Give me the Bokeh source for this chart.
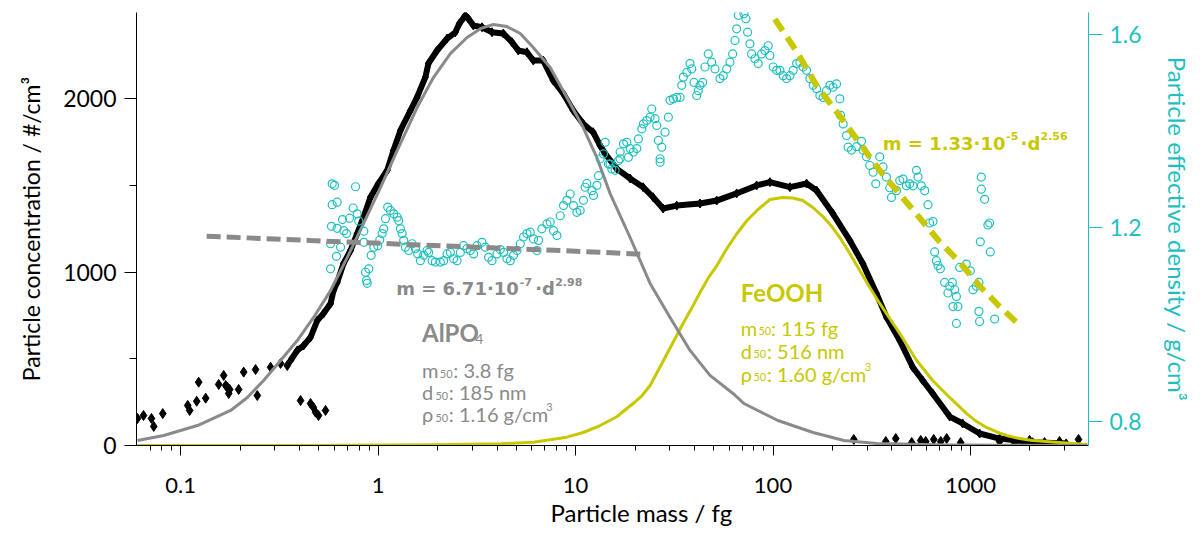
from bokeh.plotting import figure
from bokeh.models import Range1d, LinearAxis, FixedTicker, PrintfTickFormatter, Label, Title
from bokeh.embed import file_html
from bokeh.resources import INLINE

FONT = "Lato"
FORMULA_FONT = "DejaVu Sans"
GRAY = "#8a8a8a"
YEL = "#c8c800"
CYAN = "#1fbfbf"

# ---------------- data (mass in fg) ----------------
black_mass = [0.3601, 0.3893, 0.4190, 0.4545, 0.4914, 0.5288, 0.5737, 0.5941, 0.6204, 0.6677,
              0.7244, 0.7831, 0.8425, 0.9142, 1.003, 1.110, 1.195, 1.297, 1.457, 1.575,
              1.735, 1.797, 1.988, 2.234, 2.460, 2.578, 2.764, 2.863, 3.034, 3.358,
              3.774, 4.302, 4.762, 5.125, 5.671, 6.105, 6.858, 7.703, 8.658, 9.725,
              10.93, 12.27, 13.32, 14.11, 16.18, 18.89, 21.98, 24.70, 27.74, 32.54,
              42.67, 51.85, 65.44, 82.61, 96.45, 121.8, 147.9, 166.2, 200.9, 244.9,
              284.9, 334.2, 375.4, 438.5, 510.2, 573.1, 643.9, 784.8, 912.8, 1113,
              1405, 2064, 3056]
black_conc = [490, 548, 576, 624, 720, 761, 818, 893, 941, 1049,
              1124, 1222, 1316, 1431, 1510, 1585, 1700, 1816, 1931, 2008,
              2123, 2202, 2277, 2346, 2382, 2432, 2479, 2461, 2421, 2411,
              2382, 2375, 2325, 2277, 2267, 2219, 2219, 2104, 2029, 1931,
              1854, 1806, 1729, 1683, 1595, 1539, 1489, 1431, 1366, 1383,
              1395, 1412, 1453, 1499, 1518, 1489, 1510, 1470, 1337, 1182,
              1049, 876, 740, 605, 451, 375, 300, 167, 127, 69,
              40, 19, 12]

black_scatter_mass = [0.0604, 0.0648, 0.0711, 0.0730, 0.0811, 0.1085, 0.1110, 0.1205, 0.1233, 0.1338,
                      0.1557, 0.1650, 0.1689, 0.1723, 0.1750, 0.1770, 0.1965, 0.2084, 0.2394, 0.2443,
                      0.2852, 0.3204, 0.3465, 0.4046, 0.4545, 0.4692, 0.4819, 0.4989, 0.5413,
                      256.6, 372.5, 418.5, 504.2, 560.0, 593.5, 651.6, 707.1, 758.1, 892.1,
                      1405, 1673, 1993, 2373, 2827, 3527]
black_scatter_conc = [156, 173, 156, 110, 184, 231, 202, 255, 365, 273,
                      352, 404, 346, 336, 300, 323, 323, 423, 438, 288,
                      451, 473, 461, 259, 242, 221, 192, 173, 202,
                      35, 23, 40, 17, 29, 23, 35, 23, 40, 17,
                      23, 17, 29, 17, 23, 35]

alpo_fit_mass = [0.0604, 0.0820, 0.1215, 0.1790, 0.2175, 0.2629, 0.3204, 0.3893, 0.4708, 0.5737,
                 0.6967, 0.8425, 1.027, 1.248, 1.575, 1.905, 2.321, 2.819, 3.293, 3.831,
                 4.493, 5.246, 6.105, 7.439, 9.036, 10.93, 12.82, 14.96, 18.89, 23.85,
                 30.10, 38.00, 47.96, 62.70, 71.24, 105.9, 159.7, 228.4, 335.4, 784.8, 3916]
alpo_fit_conc = [28.8, 57.6, 115, 202, 277, 375, 490, 605, 738, 893,
                 1083, 1279, 1487, 1700, 1948, 2121, 2259, 2352, 2403, 2427,
                 2415, 2375, 2294, 2179, 2006, 1833, 1660, 1452, 1199, 934,
                 738, 548, 404, 300, 242, 144, 75, 29, 11.5, 2.9, 0]

feooh_fit_mass = [0.0604, 0.4046, 1.905, 4.156, 6.105, 9.036, 10.93, 13.32, 16.23, 19.56,
                  21.73, 23.85, 25.87, 28.39, 31.53, 35.02, 38.89, 42.67, 46.85, 52.02,
                  58.45, 65.68, 73.79, 82.91, 96.45, 112.2, 126.1, 141.6, 159.2, 178.8,
                  198.6, 218.0, 244.9, 275.2, 309.1, 347.3, 390.3, 438.5, 534.5, 643.9,
                  784.8, 956.8, 1075, 1207, 1357, 1525, 1774, 2064, 2827, 3916]
feooh_fit_conc = [0, 0, 4, 9.8, 19, 48, 75, 115, 167, 242,
                  288, 346, 421, 507, 605, 703, 795, 882, 963, 1038,
                  1136, 1222, 1297, 1355, 1418, 1430, 1427, 1412, 1372, 1320,
                  1262, 1199, 1107, 1009, 911, 819, 732, 646, 490, 375,
                  277, 184, 138, 104, 78, 58, 40, 29, 17, 6]

dens_mass = [0.585, 0.601, 0.768, 0.585, 0.620, 0.747, 0.783, 0.660, 0.716, 0.580,
             0.620, 0.670, 0.691, 0.798, 0.846, 0.574, 0.645, 0.615, 0.574, 0.846,
             0.863, 0.897, 0.873, 0.880, 0.922, 0.950, 0.995, 1.019, 1.048, 1.067,
             1.089, 1.118, 1.154, 1.199, 1.248, 1.271, 1.296, 1.323, 1.348, 1.375,
             1.428, 1.486, 1.544, 1.587, 1.637, 1.701, 1.770, 1.803, 1.876, 1.949,
             2.066, 2.147, 2.234, 2.321, 2.412, 2.509, 2.608, 2.710, 2.819, 2.930,
             3.045, 3.168, 3.358, 3.489, 3.626, 3.773, 3.999, 4.156, 4.318, 4.493,
             4.669, 4.852, 5.048, 5.246, 5.452, 5.672, 5.893, 6.124, 6.372, 6.492,
             6.754, 7.159, 7.439, 7.731, 8.044, 8.359, 8.687, 9.036, 9.391, 9.759,
             10.15, 10.55, 10.96, 11.18, 11.40, 12.09, 12.32, 12.82, 13.06, 13.32,
             13.84, 14.12, 14.67, 14.96, 15.26, 15.86, 16.48, 16.81, 16.81, 17.47,
             18.18, 18.52, 18.89, 19.63, 20.42, 20.81, 21.65, 22.05, 22.94, 23.84,
             24.31, 25.27, 25.77, 26.26, 26.80, 26.80, 27.32, 28.39, 29.51, 30.10,
             31.28, 32.54, 33.82, 34.49, 35.15, 36.56, 37.99, 38.75, 39.80, 41.07,
             41.85, 42.67, 44.04, 45.24, 47.00, 48.90, 50.82, 53.87, 55.98, 58.25,
             60.53, 62.46, 64.17, 65.45, 66.68, 71.24, 72.91, 74.37, 76.40, 77.93,
             80.98, 84.16, 87.55, 90.99, 94.56, 96.45, 100.2, 104.3, 108.4, 112.6,
             117.2, 121.8, 126.5, 131.7, 136.8, 142.1, 147.9, 153.7, 159.7, 166.2,
             172.7, 179.5, 186.7, 194.1, 201.6, 209.8, 218.0, 219.8, 226.6, 235.7,
             240.2, 249.9, 264.9, 280.6, 285.9, 297.4, 309.1, 321.2, 331.5, 347.3,
             360.9, 375.5, 390.3, 398.1, 421.9, 438.5, 455.6, 474.0, 492.6, 512.0,
             532.6, 542.6, 564.5, 586.5, 609.5, 621.7, 646.1, 659.0, 672.2, 684.8,
             704.2, 740.4, 769.4, 784.8, 809.8, 832.0, 848.7, 864.7, 848.7, 815.6,
             882.0, 953.5, 998.9, 1030, 1071, 1104, 1104, 1113, 1135, 1135,
             1180, 1226, 1251, 1122, 1261, 1326]
dens_values = [1.291, 1.288, 1.285, 1.248, 1.253, 1.241, 1.229, 1.217, 1.220, 1.203,
               1.199, 1.194, 1.188, 1.214, 1.193, 1.167, 1.160, 1.141, 1.115, 1.170,
               1.108, 1.115, 1.091, 1.085, 1.143, 1.160, 1.163, 1.175, 1.188, 1.198,
               1.219, 1.243, 1.236, 1.229, 1.222, 1.215, 1.198, 1.188, 1.174, 1.160,
               1.153, 1.167, 1.157, 1.146, 1.132, 1.143, 1.153, 1.149, 1.132, 1.129,
               1.129, 1.132, 1.146, 1.149, 1.136, 1.132, 1.149, 1.163, 1.157, 1.153,
               1.146, 1.163, 1.170, 1.160, 1.139, 1.132, 1.146, 1.155, 1.149, 1.136,
               1.132, 1.143, 1.153, 1.167, 1.181, 1.188, 1.191, 1.177, 1.153, 1.174,
               1.198, 1.208, 1.212, 1.194, 1.184, 1.225, 1.246, 1.257, 1.270, 1.246,
               1.232, 1.236, 1.257, 1.284, 1.292, 1.277, 1.267, 1.288, 1.308, 1.343,
               1.353, 1.377, 1.332, 1.332, 1.322, 1.319, 1.339, 1.357, 1.343, 1.374,
               1.377, 1.346, 1.364, 1.357, 1.364, 1.384, 1.405, 1.415, 1.422, 1.429,
               1.446, 1.426, 1.412, 1.381, 1.343, 1.336, 1.367, 1.398, 1.429, 1.464,
               1.467, 1.470, 1.470, 1.495, 1.512, 1.522, 1.540, 1.529, 1.501, 1.474,
               1.484, 1.495, 1.501, 1.533, 1.560, 1.543, 1.529, 1.509, 1.515, 1.529,
               1.543, 1.560, 1.588, 1.612, 1.640, 1.643, 1.633, 1.605, 1.581, 1.560,
               1.550, 1.540, 1.560, 1.567, 1.577, 1.557, 1.533, 1.526, 1.526, 1.515,
               1.509, 1.515, 1.526, 1.540, 1.543, 1.533, 1.526, 1.509, 1.495, 1.488,
               1.474, 1.470, 1.484, 1.495, 1.491, 1.498, 1.467, 1.433, 1.415, 1.391,
               1.367, 1.361, 1.368, 1.379, 1.361, 1.347, 1.329, 1.315, 1.291, 1.347,
               1.326, 1.305, 1.283, 1.263, 1.277, 1.298, 1.301, 1.287, 1.291, 1.287,
               1.319, 1.305, 1.287, 1.277, 1.248, 1.210, 1.213, 1.150, 1.132, 1.122,
               1.115, 1.087, 1.065, 1.079, 1.087, 1.072, 1.058, 1.037, 1.002, 1.037,
               1.118, 1.125, 1.111, 1.072, 1.079, 1.087, 1.027, 1.006, 1.305, 1.280,
               1.259, 1.206, 1.210, 1.171, 1.150, 1.011]

alpo_dens_fit_mass = [0.1353, 0.4545, 13.32, 22.06]
alpo_dens_fit = [1.1826, 1.1737, 1.1495, 1.1447]

feooh_dens_fit_mass = [102.2, 131.7, 166.2, 218.0, 275.2, 347.3, 438.5, 553.4, 698.7, 882.0,
                       1113, 1405, 1774]
feooh_dens_fit = [1.632, 1.565, 1.4946, 1.4313, 1.3749, 1.3186, 1.2696, 1.2203, 1.1710, 1.1288,
                  1.0795, 1.0371, 0.9985]

x_ticks = [0.1, 1, 10, 100, 1000]
x_minor = [0.07, 0.08, 0.09] + [k * 0.1 for k in range(2, 10)] + list(range(2, 10)) + \
          [k * 10 for k in range(2, 10)] + [k * 100 for k in range(2, 10)] + [2000, 3000]
left_ticks = [0, 1000, 2000]
left_minor = [500, 1500]
right_ticks = [0.8, 1.2, 1.6]

# ---------------- figure ----------------
p = figure(width=1204, height=533, x_axis_type="log",
           x_range=Range1d(0.0597, 3963), y_range=Range1d(0, 2496),
           output_backend="svg", toolbar_location=None,
           min_border_left=136, min_border_right=116, min_border_top=12, min_border_bottom=88)
p.extra_y_ranges = {"dens": Range1d(0.7493, 1.6458)}
p.xgrid.visible = False
p.ygrid.visible = False
p.outline_line_color = None
p.background_fill_color = "white"

xa = p.xaxis[0]
xa.ticker = FixedTicker(ticks=x_ticks, minor_ticks=x_minor)
xa.formatter = PrintfTickFormatter(format="%g")
xa.major_tick_out = 10
xa.major_tick_in = 0
xa.minor_tick_out = 5
xa.minor_tick_in = 0
xa.major_label_standoff = 22
xa.major_label_text_font = FONT
xa.major_label_text_font_size = "22px"
xa.major_label_text_color = "black"
xa.axis_line_color = "black"

ya = p.yaxis[0]
ya.ticker = FixedTicker(ticks=left_ticks, minor_ticks=left_minor)
ya.major_tick_out = 12
ya.major_tick_in = 0
ya.minor_tick_out = 7
ya.minor_tick_in = 0
ya.major_label_standoff = 8
ya.major_label_text_font = FONT
ya.major_label_text_font_size = "23px"
ya.major_label_text_color = "black"
ya.axis_label = "Particle concentration / #/cm³"
ya.axis_label_text_font = FONT
ya.axis_label_text_font_size = "23px"
ya.axis_label_text_font_style = "normal"
ya.axis_label_text_color = "black"
ya.axis_label_standoff = 15

ra = LinearAxis(y_range_name="dens",
                ticker=FixedTicker(ticks=right_ticks, minor_ticks=[]),
                formatter=PrintfTickFormatter(format="%.1f"))
ra.major_tick_out = 14
ra.major_tick_in = 0
ra.minor_tick_out = 0
ra.minor_tick_in = 0
ra.axis_line_color = CYAN
ra.major_tick_line_color = CYAN
ra.major_label_standoff = 7
ra.major_label_text_font = FONT
ra.major_label_text_font_size = "23px"
ra.major_label_text_color = CYAN
ra.axis_label = "Particle effective density / g/cm³"
ra.axis_label_text_font = FONT
ra.axis_label_text_font_size = "24px"
ra.axis_label_text_font_style = "normal"
ra.axis_label_text_color = CYAN
ra.axis_label_standoff = 18
p.add_layout(ra, "right")

# x-axis title, placed as a title panel below the axis so it can sit off-centre like the reference
xt = Title(text="Particle mass / fg", align="left", offset=414, standoff=0,
           text_font=FONT, text_font_size="24px", text_font_style="normal", text_color="black")
p.add_layout(xt, "below")

# ---------------- glyphs ----------------
p.line(black_mass, black_conc, line_color="black", line_width=6, line_join="round")
p.scatter(black_mass, black_conc, marker="diamond", size=9, color="black")
p.scatter(black_scatter_mass, black_scatter_conc, marker="diamond", size=10, color="black")
p.line(feooh_fit_mass, feooh_fit_conc, line_color=YEL, line_width=3, line_join="round")
p.line(alpo_fit_mass, alpo_fit_conc, line_color=GRAY, line_width=3, line_join="round")
p.scatter(dens_mass, dens_values, marker="circle", size=8, fill_color=None,
          line_color=CYAN, line_width=1.2, y_range_name="dens")
p.line(alpo_dens_fit_mass, alpo_dens_fit, line_color=GRAY, line_width=5,
       line_dash="14 6", y_range_name="dens")
p.line(feooh_dens_fit_mass, feooh_dens_fit, line_color=YEL, line_width=6,
       line_dash="14 8", y_range_name="dens")


# ---------------- annotations (placed by pixel position on the canvas) ----------------
def fx(px):
    return 10 ** ((px - 180) / 197.7 - 1)


def fy(py):
    return (445 - py) * 5.764


def lab(px, py, text, size, color, bold=False, align="left", font=FONT):
    p.add_layout(Label(x=fx(px), y=fy(py), text=text, text_font=font,
                       text_font_size=f"{size}px",
                       text_font_style="bold" if bold else "normal",
                       text_color=color, text_align=align, text_baseline="alphabetic"))


# AlPO4 density fit formula
lab(395.7, 288, "m = 6.71·10", 18, GRAY, True, font=FORMULA_FONT)
lab(519.5, 281.5, "-7", 11, GRAY, True, font=FORMULA_FONT)
lab(535, 288, "·d", 18, GRAY, True, font=FORMULA_FONT)
lab(555, 281.5, "2.98", 11, GRAY, True, font=FORMULA_FONT)

# AlPO4 block
lab(421.7, 331.7, "AlPO", 24, GRAY, True)
lab(475, 338, "4", 14, GRAY)
lab(421.7, 369.5, "m", 20, GRAY)
lab(439.5, 373, "50", 11, GRAY)
lab(453, 369.5, ": 3.8 fg", 20, GRAY)
lab(421.7, 391.5, "d", 20, GRAY)
lab(435, 395, "50", 11, GRAY)
lab(448.5, 391.5, ": 185 nm", 20, GRAY)
lab(421.7, 413.5, "ρ", 20, GRAY)
lab(435, 417, "50", 11, GRAY)
lab(448.5, 413.5, ": 1.16 g/cm", 20, GRAY)
lab(546, 406.5, "3", 11, GRAY)

# FeOOH block
lab(740.7, 291.6, "FeOOH", 24, YEL, True)
lab(740.7, 327, "m", 20, YEL)
lab(758.5, 330.5, "50", 11, YEL)
lab(771, 327, ": 115 fg", 20, YEL)
lab(740.7, 350, "d", 20, YEL)
lab(753.5, 353.5, "50", 11, YEL)
lab(767, 350, ": 516 nm", 20, YEL)
lab(740.7, 373, "ρ", 20, YEL)
lab(753.5, 376.5, "50", 11, YEL)
lab(767, 373, ": 1.60 g/cm", 20, YEL)
lab(865, 366, "3", 11, YEL)

# FeOOH density fit formula
lab(883, 143.3, "m = 1.33·10", 18, YEL, True, font=FORMULA_FONT)
lab(1006.5, 135, "-5", 11, YEL, True, font=FORMULA_FONT)
lab(1021, 143.3, "·d", 18, YEL, True, font=FORMULA_FONT)
lab(1041, 135, "2.56", 11, YEL, True, font=FORMULA_FONT)

open("out.html", "w").write(file_html(p, INLINE))
